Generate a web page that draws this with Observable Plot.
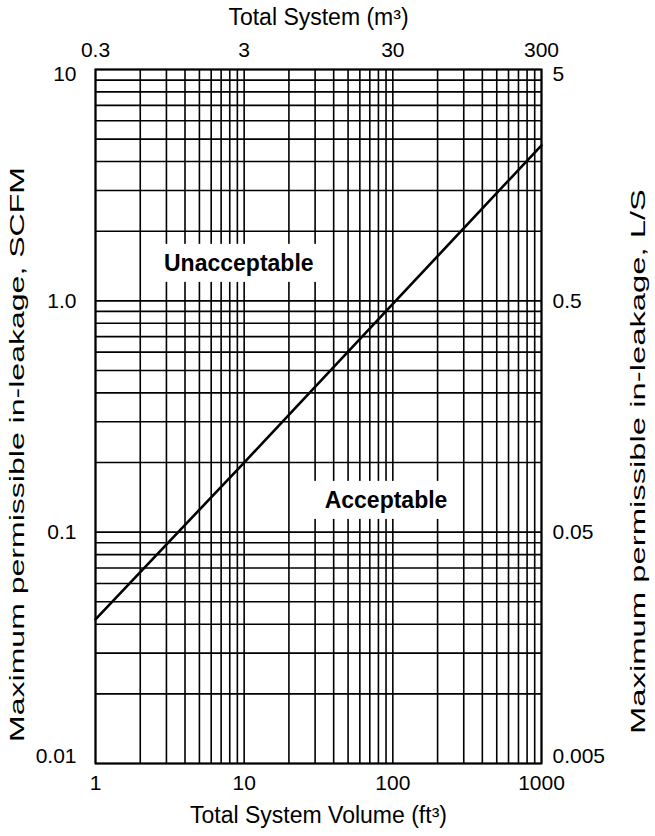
<!DOCTYPE html>
<html>
<head>
<meta charset="utf-8">
<script src="https://cdn.jsdelivr.net/npm/d3@7"></script>
<script src="https://cdn.jsdelivr.net/npm/@observablehq/plot@0.6"></script>
<style>
  body { margin: 0; background: #fff; }
  #chart svg { display: block; }
</style>
</head>
<body>
<div id="chart"></div>
<script>
// ---- data ----
const xMajor = [1, 10, 100, 1000];
const xBottomLabels = ["1", "10", "100", "1000"];
const xTopLabels = ["0.3", "3", "30", "300"];
const yMajor = [0.01, 0.1, 1, 10];
const yLeftLabels = ["0.01", "0.1", "1.0", "10"];
const yRightLabels = ["0.005", "0.05", "0.5", "5"];

const xGrid = [1, 2, 3, 4, 5, 6, 7, 8, 9,
               10, 20, 30, 40, 50, 60, 70, 80, 90,
               100, 200, 300, 400, 500, 600, 700, 800, 900, 1000];
const yGrid = [0.01, 0.02, 0.03, 0.04, 0.05, 0.06, 0.07, 0.08, 0.09,
               0.1, 0.2, 0.3, 0.4, 0.5, 0.6, 0.7, 0.8, 0.9,
               1, 2, 3, 4, 5, 6, 7, 8, 9, 10];

// limit line (ft3 vs SCFM)
const lineX = [1, 10, 100, 1000];
const lineY = [0.042, 0.2, 0.97, 4.7];

// region labels
const labelText = ["Unacceptable", "Acceptable"];
const labelX = [9.2, 90];
const labelY = [1.45, 0.137];

const xTitle = "Total System Volume (ft³)";
const xTopTitle = "Total System (m³)";
const yLeftTitle = "Maximum permissible in-leakage, SCFM";
const yRightTitle = "Maximum permissible in-leakage, L/S";

// ---- tables ----
const lineData = lineX.map((x, i) => ({x, y: lineY[i]}));
const labels = labelText.map((t, i) => ({t, x: labelX[i], y: labelY[i]}));
const fmt = (ticks, names) => d => names[ticks.indexOf(d)];

const FONT = "'Liberation Sans', Arial, Helvetica, sans-serif";

// y tick labels: the top one sits a little below its line, the bottom one a little above
const yTop = [yMajor[3]], yMid = [yMajor[1], yMajor[2]], yBot = [yMajor[0]];
const yAxes = (anchor, names, pad) => [
  Plot.axisY({anchor, ticks: yTop, tickFormat: fmt(yMajor, names), tickSize: 0, tickPadding: pad, label: null, fontSize: 21, dy: 5}),
  Plot.axisY({anchor, ticks: yMid, tickFormat: fmt(yMajor, names), tickSize: 0, tickPadding: pad, label: null, fontSize: 21}),
  Plot.axisY({anchor, ticks: yBot, tickFormat: fmt(yMajor, names), tickSize: 0, tickPadding: pad, label: null, fontSize: 21, dy: -7})
];

const plot = Plot.plot({
  width: 655,
  height: 836,
  marginTop: 69,
  marginBottom: 73,
  marginLeft: 95,
  marginRight: 114,
  style: {fontFamily: FONT, fontSize: "21px", background: "white", color: "black"},
  x: {type: "log", domain: [1, 1000]},
  y: {type: "log", domain: [0.01, 10]},
  marks: [
    Plot.ruleX(xGrid, {stroke: "black", strokeWidth: 1.6}),
    Plot.ruleY(yGrid, {stroke: "black", strokeWidth: 1.6}),
    Plot.text(labels, {x: "x", y: "y", text: "t", fontWeight: "bold", fontSize: 23, fill: "black"}),
    Plot.line(lineData, {x: "x", y: "y", stroke: "black", strokeWidth: 2.6}),
    Plot.frame({stroke: "black", strokeWidth: 2}),
    Plot.axisX({anchor: "bottom", ticks: xMajor, tickFormat: fmt(xMajor, xBottomLabels),
                tickSize: 0, tickPadding: 12, label: null, fontSize: 21}),
    Plot.axisX({anchor: "top", ticks: xMajor, tickFormat: fmt(xMajor, xTopLabels),
                tickSize: 0, tickPadding: 13, label: null, fontSize: 21}),
    ...yAxes("left", yLeftLabels, 19),
    ...yAxes("right", yRightLabels, 11),
    Plot.text([xTitle], {frameAnchor: "bottom", dy: 52, lineAnchor: "middle", textAnchor: "middle", fontSize: 23, fill: "black"}),
    Plot.text([xTopTitle], {frameAnchor: "top", dy: -52, lineAnchor: "middle", textAnchor: "middle", fontSize: 23, fill: "black"}),
    Plot.text([yLeftTitle], {frameAnchor: "left", rotate: -90, dx: -78, dy: 38, lineAnchor: "middle", textAnchor: "middle", fontSize: 21, fill: "black"}),
    Plot.text([yRightTitle], {frameAnchor: "right", rotate: -90, dx: 97, dy: 45, lineAnchor: "middle", textAnchor: "middle", fontSize: 21, fill: "black"})
  ]
});

document.getElementById("chart").appendChild(plot);

const svgNS = "http://www.w3.org/2000/svg";
plot.querySelectorAll("text").forEach(t => {
  const s = t.textContent;
  // white boxes behind the region labels (grid is interrupted there)
  if (labelText.includes(s)) {
    const b = t.getBBox();
    const r = document.createElementNS(svgNS, "rect");
    r.setAttribute("x", b.x - 14);
    r.setAttribute("y", b.y - 6);
    r.setAttribute("width", b.width + 28);
    r.setAttribute("height", b.height + 12);
    r.setAttribute("fill", "white");
    r.setAttribute("stroke", "none");
    const tr = t.getAttribute("transform");
    if (tr) r.setAttribute("transform", tr);
    t.parentNode.insertBefore(r, t);
  }
  // the vertical titles are drawn stretched along their length
  if (s === yLeftTitle) { t.setAttribute("textLength", 575); t.setAttribute("lengthAdjust", "spacingAndGlyphs"); }
  if (s === yRightTitle) { t.setAttribute("textLength", 545); t.setAttribute("lengthAdjust", "spacingAndGlyphs"); }
});
</script>
</body>
</html>
